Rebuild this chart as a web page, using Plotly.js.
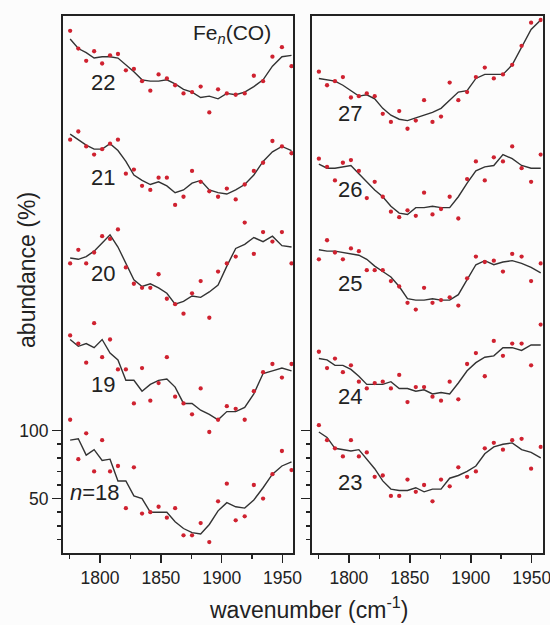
<!DOCTYPE html>
<html><head><meta charset="utf-8">
<script src="https://cdn.plot.ly/plotly-3.0.1.min.js"></script>
<style>html,body{margin:0;padding:0;background:#fcfcfc}#chart{width:550px;height:625px}</style>
</head><body><div id="chart"></div>
<script>
// wavenumber (cm^-1) of the measured points
const wavenumber = [1775.4, 1782.1, 1788.6, 1795.1, 1801.7, 1808.2, 1814.7, 1821.2, 1827.8, 1834.5, 1841.3, 1848.1, 1854.9, 1861.7, 1868.6, 1875.6, 1882.7, 1889.8, 1897.0, 1904.2, 1911.5, 1918.9, 1926.4, 1934.0, 1941.7, 1949.5, 1957.4];

// left panel: cluster sizes, right panel: cluster sizes
const leftSizes = ['22', '21', '20', '19', '18'];
const rightSizes = ['27', '26', '25', '24', '23'];

// abundance (%), spectra stacked with offsets as in the figure: measured points and smoothed curve
const points22 = [394, 381, 372, 379, 370, 376, 377, 365, 366, 357, 350, 362, 359, 354, 348, 349, 353, 334, 351, 348, 347, 348, 361, 357, 375, 382, 368];
const curve22  = [388, 381, 378, 374, 375, 375, 374, 369, 364, 358, 357, 357, 358, 355, 351, 349, 345, 346, 344, 348, 347, 349, 353, 358, 368, 375, 376];
const points21 = [314, 320, 309, 303, 307, 311, 314, 289, 292, 280, 277, 286, 286, 266, 272, 291, 283, 276, 272, 278, 270, 281, 291, 297, 313, 309, 304];
const curve21  = [318, 314, 310, 307, 307, 311, 306, 298, 288, 284, 281, 283, 280, 275, 277, 282, 284, 277, 275, 274, 277, 281, 288, 298, 305, 309, 306];
const points20 = [223, 233, 223, 231, 243, 241, 248, 220, 208, 205, 205, 215, 197, 193, 186, 201, 210, 183, 217, 223, 228, 253, 230, 246, 239, 246, 223];
const curve20  = [227, 226, 228, 232, 238, 244, 235, 223, 211, 206, 208, 205, 201, 193, 195, 199, 198, 202, 207, 221, 234, 237, 242, 239, 243, 236, 235];
const points19 = [170, 164, 150, 179, 154, 167, 145, 145, 120, 146, 122, 135, 154, 125, 120, 112, 131, 99, 108, 118, 116, 108, 129, 143, 149, 139, 149];
const curve19  = [167, 162, 164, 161, 167, 157, 152, 137, 137, 129, 134, 137, 138, 132, 120, 120, 115, 112, 108, 114, 114, 117, 127, 142, 144, 146, 144];
const points18 = [108, 79, 98, 70, 93, 70, 74, 43, 73, 39, 40, 44, 36, 43, 23, 23, 32, 18, 48, 61, 34, 37, 60, 50, 68, 85, 71];
const curve18  = [93, 94, 82, 86, 78, 79, 63, 63, 52, 50, 40, 40, 40, 33, 28, 25, 24, 31, 41, 47, 44, 43, 49, 58, 68, 74, 77];

const points27 = [364, 354, 357, 360, 345, 346, 348, 346, 333, 327, 335, 322, 328, 343, 327, 331, 356, 343, 349, 360, 367, 359, 362, 369, 383, 400, 402];
const curve27  = [359, 358, 357, 354, 350, 346, 347, 344, 337, 332, 329, 328, 330, 332, 334, 337, 343, 349, 350, 359, 362, 362, 362, 369, 382, 395, 402];
const points26 = [300, 294, 284, 297, 299, 291, 271, 283, 272, 261, 257, 262, 258, 275, 259, 263, 272, 256, 285, 298, 284, 301, 298, 309, 293, 283, 303];
const curve26  = [296, 293, 293, 294, 295, 289, 283, 277, 272, 265, 260, 259, 264, 264, 265, 264, 264, 272, 282, 291, 294, 295, 303, 300, 295, 293, 293];
const points25 = [226, 240, 231, 226, 234, 232, 218, 218, 218, 210, 206, 194, 189, 205, 194, 196, 198, 192, 212, 228, 224, 225, 217, 230, 228, 210, 223];
const curve25  = [233, 232, 232, 231, 230, 229, 226, 221, 217, 213, 206, 197, 196, 196, 197, 196, 196, 200, 211, 222, 225, 222, 224, 225, 223, 220, 216];
const points24 = [158, 146, 153, 143, 148, 136, 131, 135, 136, 131, 141, 121, 132, 132, 125, 122, 136, 123, 149, 157, 140, 166, 155, 164, 164, 148, 178];
const curve24  = [153, 152, 148, 148, 145, 140, 134, 134, 134, 136, 131, 131, 129, 130, 127, 128, 127, 135, 144, 150, 154, 155, 161, 161, 159, 163, 163];
const points23 = [104, 93, 87, 81, 93, 81, 84, 66, 67, 52, 52, 64, 55, 60, 48, 64, 59, 73, 66, 70, 87, 91, 86, 93, 94, 72, 88];
const curve23  = [99, 95, 87, 86, 85, 86, 79, 72, 63, 57, 56, 56, 58, 55, 57, 57, 65, 67, 70, 74, 83, 88, 90, 91, 86, 84, 80];

// tick labels
const xTickVals = [1800, 1850, 1900, 1950];
const xMinorVals = [1775, 1825, 1875, 1925];
const yTickVals = [50, 100];
const yTickText = ['50', '100'];
const yMinorVals = [20, 30, 40, 60, 70, 80, 90];

const leftPoints = [points22, points21, points20, points19, points18];
const leftCurves = [curve22, curve21, curve20, curve19, curve18];
const rightPoints = [points27, points26, points25, points24, points23];
const rightCurves = [curve27, curve26, curve25, curve24, curve23];

const FONT = 'Arial, "Liberation Sans", Helvetica, sans-serif';
const lineColor = '#333333';
const dotColor = '#cf2230';

const traces = [];
function addPanel(curves, points, names, xa, ya) {
  curves.forEach((c, i) => {
    traces.push({x: wavenumber, y: c, xaxis: xa, yaxis: ya, type: 'scatter', mode: 'lines',
      line: {color: lineColor, width: 1.4}, name: 'n=' + names[i] + ' fit', hoverinfo: 'skip'});
  });
  points.forEach((p, i) => {
    traces.push({x: wavenumber, y: p, xaxis: xa, yaxis: ya, type: 'scatter', mode: 'markers',
      marker: {color: dotColor, size: 4.3}, name: 'n=' + names[i]});
  });
}
addPanel(leftCurves, leftPoints, leftSizes, 'x', 'y');
addPanel(rightCurves, rightPoints, rightSizes, 'x2', 'y2');

const axBase = {showline: true, mirror: true, linecolor: '#222', linewidth: 2, zeroline: false,
  showgrid: false, ticks: 'outside', tickcolor: '#222', tickwidth: 1.5, ticklabeloverflow: 'allow',
  tickfont: {family: FONT, size: 17.5, color: '#222'}, fixedrange: true};
const xRange = [1769.5, 1959];
const yRange = [10, 405.3];
function xAxis(domain, anchor) {
  return Object.assign({}, axBase, {domain: domain, anchor: anchor, range: xRange,
    tickmode: 'array', tickvals: xTickVals, ticklen: 8,
    minor: {tickmode: 'array', tickvals: xMinorVals, ticks: 'outside', ticklen: 4, tickcolor: '#222', tickwidth: 1.5}});
}
function yAxis(anchor, labels) {
  return Object.assign({}, axBase, {domain: [0.1152, 0.9752], anchor: anchor, range: yRange,
    tickmode: 'array', tickvals: yTickVals, ticktext: yTickText, ticklen: 9, showticklabels: labels,
    minor: {tickmode: 'array', tickvals: yMinorVals, ticks: 'outside', ticklen: 4, tickcolor: '#222', tickwidth: 1.5}});
}

const leftLabelY = [355.7, 286.5, 215.2, 133.6];
const rightLabelY = [332.9, 277, 207.9, 124.8, 61.5];
const annotations = [];
leftLabelY.forEach((y, i) => annotations.push({xref: 'x', yref: 'y', x: 1802, y: y, text: leftSizes[i],
  showarrow: false, xanchor: 'center', yanchor: 'middle', font: {family: FONT, size: 22, color: '#222'}}));
annotations.push({xref: 'x', yref: 'y', x: 1773.7, y: 54.2, text: '<i>n</i>=' + leftSizes[4],
  showarrow: false, xanchor: 'left', yanchor: 'middle', font: {family: FONT, size: 22, color: '#222'}});
rightLabelY.forEach((y, i) => annotations.push({xref: 'x2', yref: 'y2', x: 1801, y: y, text: rightSizes[i],
  showarrow: false, xanchor: 'center', yanchor: 'middle', font: {family: FONT, size: 22, color: '#222'}}));
annotations.push({xref: 'x', yref: 'y', x: 1942, y: 392, text: 'Fe<sub><i>n</i></sub>(CO)',
  showarrow: false, xanchor: 'right', yanchor: 'middle', font: {family: FONT, size: 21, color: '#222'}});
annotations.push({xref: 'paper', yref: 'paper', x: 0.049, y: 0.568, text: 'abundance (%)', textangle: -90,
  showarrow: false, xanchor: 'center', yanchor: 'middle', font: {family: FONT, size: 23, color: '#222'}});
annotations.push({xref: 'paper', yref: 'paper', x: 0.5618, y: 0.027, text: 'wavenumber (cm<sup>-1</sup>)',
  showarrow: false, xanchor: 'center', yanchor: 'middle', font: {family: FONT, size: 23, color: '#222'}});

const layout = {
  width: 550, height: 625, margin: {l: 0, r: 0, t: 0, b: 0},
  paper_bgcolor: '#fcfcfc', plot_bgcolor: '#fcfcfc', showlegend: false,
  font: {family: FONT, color: '#222'},
  xaxis: xAxis([0.1145, 0.5336], 'y'),
  yaxis: yAxis('x', true),
  xaxis2: xAxis([0.5667, 0.9867], 'y2'),
  yaxis2: yAxis('x2', false),
  annotations: annotations
};
Plotly.newPlot('chart', traces, layout, {displayModeBar: false, staticPlot: true});
</script>
</body></html>
